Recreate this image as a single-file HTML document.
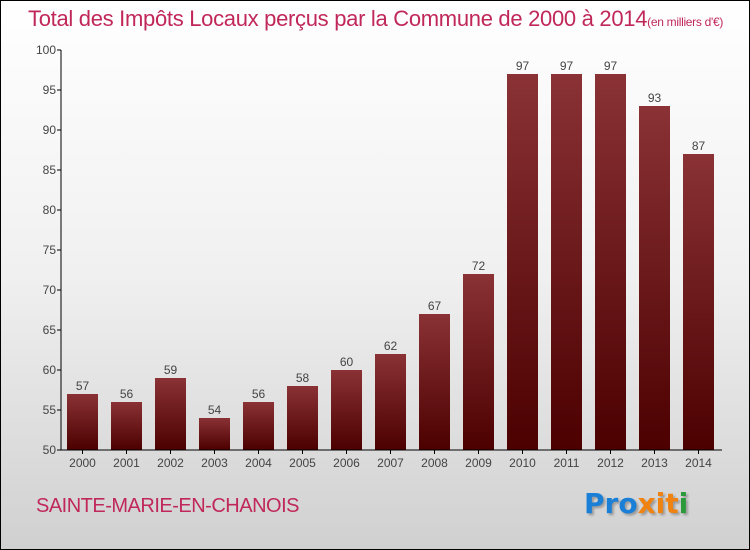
<!DOCTYPE html>
<html><head><meta charset="utf-8"><style>
body{margin:0;}
#c{position:relative;width:748px;height:548px;border:1px solid #000;background:linear-gradient(#fff 0%,#f0f0f0 50%,#d0d0d0 100%);font-family:"Liberation Sans",sans-serif;overflow:hidden}
</style></head><body>
<div id="c">
<div style="position:absolute;left:27px;top:5px;font-size:22px;color:#c0285a;white-space:nowrap;letter-spacing:-0.3px">Total des Impôts Locaux perçus par la Commune de 2000 à 2014<span style="font-size:12px">(en milliers d'€)</span></div>
<svg id="s" width="748" height="548" style="position:absolute;left:0;top:0"></svg>
<div style="position:absolute;left:35px;top:494px;font-size:20px;color:#c0285a;letter-spacing:-0.5px">SAINTE-MARIE-EN-CHANOIS</div>
<div style="position:absolute;left:583px;top:486px;font-size:28px;font-family:'DejaVu Sans',sans-serif;font-weight:bold;text-shadow:2px 2px 2px #999"><span style="color:#1a7fd6">Pro</span><span style="color:#f0820f">x</span><span style="color:#1a7fd6"></span><span style="color:#f0820f">i</span><span style="color:#f0820f">t</span><span style="color:#2a9a3a">i</span></div>
</div>
<script>
const years=["2000","2001","2002","2003","2004","2005","2006","2007","2008","2009","2010","2011","2012","2013","2014"];
const values=[57,56,59,54,56,58,60,62,67,72,97,97,97,93,87];
const yTicks=[50,55,60,65,70,75,80,85,90,95,100];
const s=document.getElementById('s'),NS="http://www.w3.org/2000/svg";
function y(v){return 449-(v-50)*8;}
function x(i){return 81.5+i*44;}
function mk(t,a){const e=document.createElementNS(NS,t);for(const k in a)e.setAttribute(k,a[k]);s.appendChild(e);return e;}
const d=mk('defs',{});d.innerHTML='<linearGradient id="g" x1="0" y1="0" x2="0" y2="1"><stop offset="0" stop-color="#8a3236"/><stop offset="1" stop-color="#4c0000"/></linearGradient>';
values.forEach((v,i)=>{
const r=mk('rect',{x:x(i)-15.5,y:y(v),width:31,height:449-y(v),fill:'url(#g)'});


const t=mk('text',{x:x(i),y:y(v)-4,'text-anchor':'middle','font-size':12,fill:'#444'});t.textContent=values[i];


const l=mk('text',{x:x(i),y:466,'text-anchor':'middle','font-size':12,fill:'#444'});l.textContent=years[i];


mk('line',{x1:x(i),x2:x(i),y1:449,y2:453,stroke:'#000'});
});
yTicks.forEach(v=>{
mk('line',{x1:56,x2:60,y1:y(v),y2:y(v),stroke:'#000'});
const t=mk('text',{x:55,y:y(v)+4,'text-anchor':'end','font-size':12,fill:'#444'});t.textContent=v;


});
const ya=mk('line',{x1:60,x2:60,y1:y(100),y2:449,stroke:'#000'});


const xa=mk('line',{x1:60,x2:721,y1:449,y2:449,stroke:'#000'});


</script>
</body></html>
